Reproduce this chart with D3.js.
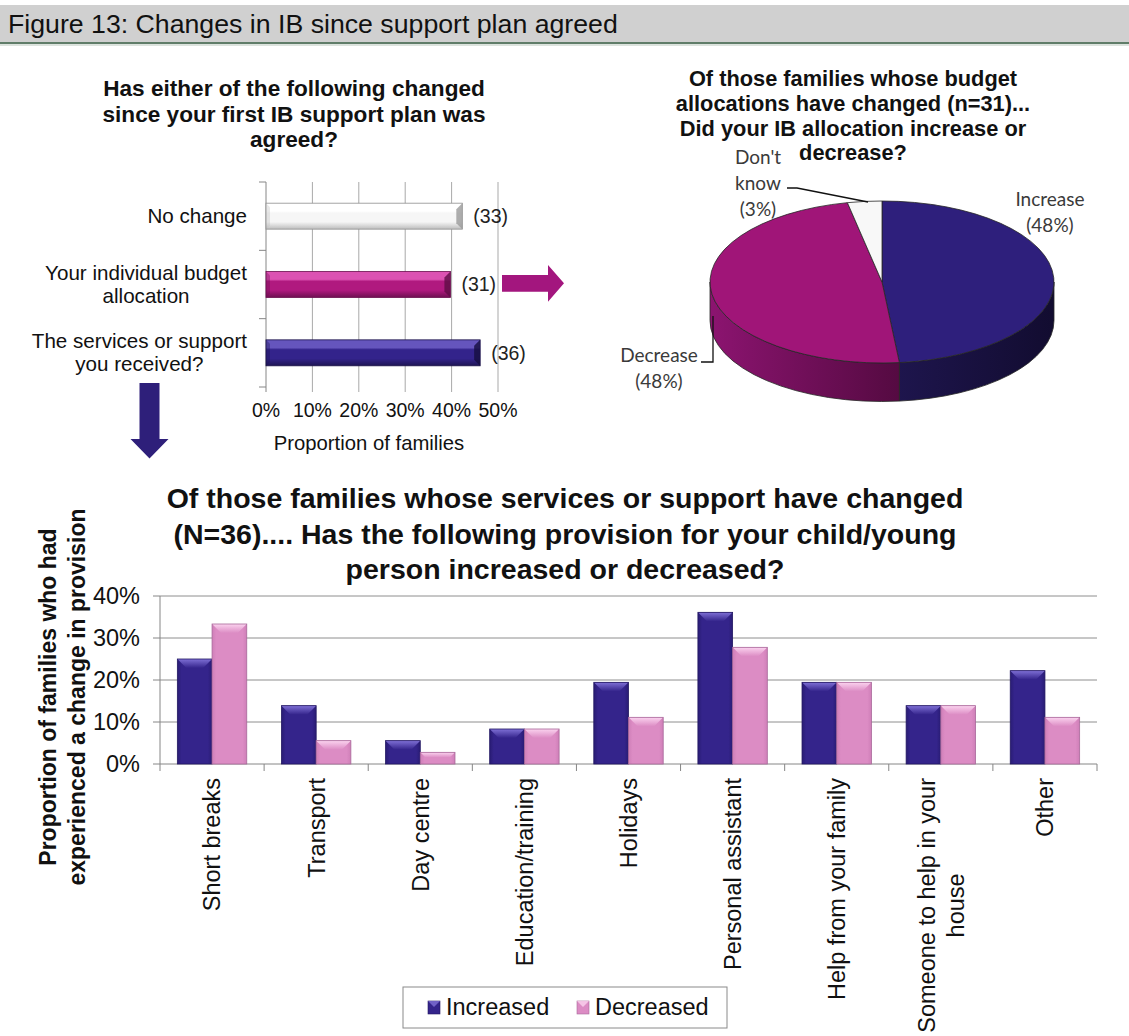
<!DOCTYPE html>
<html>
<head>
<meta charset="utf-8">
<script src="https://cdn.jsdelivr.net/npm/d3@7"></script>
<style>
  html, body { margin: 0; padding: 0; background: #ffffff; }
  svg { display: block; font-family: "Liberation Sans", Arial, sans-serif; }
</style>
</head>
<body>
<svg id="fig" width="1129" height="1036"></svg>
<script>
// ---------------- Data ----------------
// Has either of the following changed since the first IB support plan was agreed?
const changeCategories = ["No change", "Your individual budget\nallocation", "The services or support\nyou received?"];
const changeCounts = [33, 31, 36];
const changeRespondents = 78;
const changeTicks = [0, 0.1, 0.2, 0.3, 0.4, 0.5];

// Did the IB allocation increase or decrease? (n = 31)
const allocationLabels = ["Increase", "Decrease", "Don't\nknow"];
const allocationCounts = [15, 15, 1];

// Change in provision among families whose services changed (N = 36)
const provisionCategories = ["Short breaks", "Transport", "Day centre", "Education/training", "Holidays",
  "Personal assistant", "Help from your family", "Someone to help in your\nhouse", "Other"];
const provisionSeries = ["Increased", "Decreased"];
const increasedCounts = [9, 5, 2, 3, 7, 13, 7, 5, 8];
const decreasedCounts = [12, 2, 1, 3, 4, 10, 7, 5, 4];
const provisionRespondents = 36;
const provisionTicks = [0, 0.1, 0.2, 0.3, 0.4];

// ---------------- Setup ----------------
const svg = d3.select("#fig");
const defs = svg.append("defs");
let gradId = 0;
function linGrad(x1, y1, x2, y2, stops, userSpace) {
  const id = "g" + (gradId++);
  const g = defs.append("linearGradient").attr("id", id)
    .attr("x1", x1).attr("y1", y1).attr("x2", x2).attr("y2", y2);
  if (userSpace) g.attr("gradientUnits", "userSpaceOnUse");
  stops.forEach(([o, c]) => g.append("stop").attr("offset", o).attr("stop-color", c));
  return `url(#${id})`;
}
const pct = d3.format(".0%");

// ---------------- Figure header ----------------
svg.append("rect").attr("x", 0).attr("y", 5).attr("width", 1129).attr("height", 37).attr("fill", "#d0d0d0");
svg.append("line").attr("x1", 0).attr("x2", 1129).attr("y1", 43).attr("y2", 43)
  .attr("stroke", "#607d69").attr("stroke-width", 2);
svg.append("line").attr("x1", 0).attr("x2", 1129).attr("y1", 45).attr("y2", 45)
  .attr("stroke", "#b9c7bc").attr("stroke-width", 1);
svg.append("text").attr("x", 8).attr("y", 33).attr("font-size", 26.7).attr("fill", "#111")
  .text("Figure 13: Changes in IB since support plan agreed");

// ---------------- Top-left: horizontal bars ----------------
const topTitle = ["Has either of the following changed", "since your first IB support plan was", "agreed?"];
const tt = svg.append("text").attr("text-anchor", "middle").attr("font-size", 22.6).attr("font-weight", "bold").attr("fill", "#111");
topTitle.forEach((t, i) => tt.append("tspan").attr("x", 294).attr("y", 96 + i * 25.5).text(t));

const hx = d3.scaleLinear().domain([0, 0.5]).range([266, 498]);
const hy = d3.scaleBand().domain(changeCategories).range([182, 387]).paddingInner(0.62).paddingOuter(0.31);

// gridlines (extend below the plot as tick marks)
svg.append("g").selectAll("line").data(changeTicks.slice(1)).join("line")
  .attr("x1", d => hx(d)).attr("x2", d => hx(d)).attr("y1", 182).attr("y2", 392)
  .attr("stroke", "#a9a9a9").attr("stroke-width", 1);
// value axis line and category tick marks
svg.append("line").attr("x1", hx(0)).attr("x2", hx(0)).attr("y1", 182).attr("y2", 392).attr("stroke", "#868686");
svg.append("g").selectAll("line").data(d3.range(changeCategories.length + 1)).join("line")
  .attr("x1", hx(0) - 7).attr("x2", hx(0))
  .attr("y1", i => hy.range()[0] + i * hy.step()).attr("y2", i => hy.range()[0] + i * hy.step())
  .attr("stroke", "#868686");

svg.append("g").selectAll("text").data(changeTicks).join("text")
  .attr("x", d => hx(d)).attr("y", 417).attr("text-anchor", "middle").attr("font-size", 19.5).attr("fill", "#111")
  .text(d => pct(d));
svg.append("text").attr("x", 369).attr("y", 450).attr("text-anchor", "middle").attr("font-size", 20.3).attr("fill", "#111")
  .text("Proportion of families");

const hStyles = [
  { main: "#f6f6f6", light: "#ffffff", dark: "#bdbdbd", end: "#9a9a9a", edge: "#8f8f8f" },
  { main: "#b0197f", light: "#dc52b2", dark: "#6e0f51", end: "#5e0c45", edge: "#6a0e4e" },
  { main: "#33238b", light: "#6555bd", dark: "#1d1453", end: "#150e3e", edge: "#1a1248" }
];
changeCategories.forEach((cat, i) => {
  const s = hStyles[i];
  const x0 = hx(0), x1 = hx(changeCounts[i] / changeRespondents);
  const y0 = hy(cat), h = hy.bandwidth(), y1 = y0 + h;
  const g = svg.append("g");
  g.append("rect").attr("x", x0).attr("y", y0).attr("width", x1 - x0).attr("height", h)
    .attr("fill", linGrad(0, 0, 0, 1, [[0, s.light], [0.3, s.light], [0.38, s.main], [0.72, s.main], [1, s.dark]]));
  const b = 6;
  g.append("polygon").attr("points", [[x1 - b, y0 + b], [x1, y0], [x1, y1], [x1 - b, y1 - b]].join(" "))
    .attr("fill", s.end).attr("opacity", 0.8);
  g.append("polygon").attr("points", [[x0, y0], [x0 + 4, y0 + 4], [x0 + 4, y1 - 4], [x0, y1]].join(" "))
    .attr("fill", s.dark).attr("opacity", 0.35);
  g.append("rect").attr("x", x0).attr("y", y0).attr("width", x1 - x0).attr("height", h)
    .attr("fill", "none").attr("stroke", s.edge).attr("stroke-width", 0.8);
  svg.append("text").attr("x", x1 + 11).attr("y", y0 + h / 2 + 6.7).attr("font-size", 19.5).attr("fill", "#222")
    .text(`(${changeCounts[i]})`);

  // category label: lines centred on each other, block right-aligned
  const parts = cat.split("\n");
  const lab = svg.append("text").attr("text-anchor", "middle").attr("font-size", 20.6).attr("fill", "#111");
  const cyMid = y0 + h / 2 + 6.7;
  const spans = parts.map((t, k) => lab.append("tspan").attr("y", cyMid + (k - (parts.length - 1) / 2) * 23.3).text(t));
  const maxLen = d3.max(spans, sp => sp.node().getComputedTextLength());
  spans.forEach(sp => sp.attr("x", 247 - maxLen / 2));
});

// arrows linking the panels
svg.append("polygon").attr("fill", "#a3167e")
  .attr("points", [[502, 275], [548, 275], [548, 265], [564, 283.3], [548, 301.7], [548, 291.7], [502, 291.7]].join(" "));
svg.append("polygon").attr("fill", "#2e1f7a")
  .attr("points", [[139.5, 383], [159.5, 383], [159.5, 439], [168.5, 439], [149.5, 458.5], [130.5, 439], [139.5, 439]].join(" "));

// ---------------- Top-right: 3-D pie ----------------
const pieTitle = ["Of those families whose budget", "allocations have changed (n=31)...", "Did your IB allocation increase or", "decrease?"];
const pt = svg.append("text").attr("text-anchor", "middle").attr("font-size", 21.8).attr("font-weight", "bold").attr("fill", "#111");
pieTitle.forEach((t, i) => pt.append("tspan").attr("x", 853).attr("y", 86 + i * 24.8).text(t));

const pcx = 882, pcy = 282, prx = 172, pry = 81, pdepth = 38.5;
const arcs = d3.pie().sort(null).value(d => d)(allocationCounts);
const ep = (a, dy = 0) => [pcx + prx * Math.sin(a), pcy - pry * Math.cos(a) + dy];
const topFill = ["#2e1f7c", "#a01578", "#f8f8f8"];
const sideFill = [
  linGrad(pcx, 0, pcx + prx, 0, [[0, "#1f1650"], [1, "#120c30"]], true),
  linGrad(pcx - prx, 0, pcx + 20, 0, [[0, "#8c1470"], [1, "#540a41"]], true),
  "#cccccc"
];
const totalAlloc = d3.sum(allocationCounts);

// visible (front) side walls
arcs.forEach((a, i) => {
  const s = Math.max(a.startAngle, Math.PI / 2), e = Math.min(a.endAngle, 3 * Math.PI / 2);
  if (e <= s) return;
  const p0 = ep(s), p1 = ep(e), q1 = ep(e, pdepth), q0 = ep(s, pdepth);
  svg.append("path")
    .attr("d", `M${p0}A${prx},${pry} 0 0 1 ${p1}L${q1}A${prx},${pry} 0 0 0 ${q0}Z`)
    .attr("fill", sideFill[i]).attr("stroke", "#262626").attr("stroke-width", 0.8);
});
// top faces
arcs.forEach((a, i) => {
  const p0 = ep(a.startAngle), p1 = ep(a.endAngle);
  const large = a.endAngle - a.startAngle > Math.PI ? 1 : 0;
  svg.append("path")
    .attr("d", `M${pcx},${pcy}L${p0}A${prx},${pry} 0 ${large} 1 ${p1}Z`)
    .attr("fill", topFill[i]).attr("stroke", "#262626").attr("stroke-width", 0.8);
});

const pieLab = (lines, x, y0) => {
  const t = svg.append("text").attr("text-anchor", "middle").attr("font-family", "Lato, 'Open Sans', sans-serif")
    .attr("font-size", 19).attr("fill", "#3a3a3a");
  lines.forEach((l, k) => t.append("tspan").attr("x", x).attr("y", y0 + k * 26).text(l));
};
const share = i => `(${Math.round(allocationCounts[i] / totalAlloc * 100)}%)`;
pieLab([...allocationLabels[0].split("\n"), share(0)], 1050, 206);
pieLab([...allocationLabels[1].split("\n"), share(1)], 659, 362);
pieLab([...allocationLabels[2].split("\n"), share(2)], 758, 164);
// leader lines
svg.append("polyline").attr("points", [[701, 362], [713, 362], [713, 316]].join(" "))
  .attr("fill", "none").attr("stroke", "#111").attr("stroke-width", 1.3);
svg.append("polyline").attr("points", [[787, 188], [797, 188], [868, 202]].join(" "))
  .attr("fill", "none").attr("stroke", "#111").attr("stroke-width", 1.3);

// ---------------- Bottom: clustered columns ----------------
const botTitle = ["Of those families whose services or support have changed",
  "(N=36).... Has the following provision for your child/young", "person increased or decreased?"];
const bt = svg.append("text").attr("text-anchor", "middle").attr("font-size", 28.5).attr("font-weight", "bold").attr("fill", "#111");
botTitle.forEach((t, i) => bt.append("tspan").attr("x", 565).attr("y", 508 + i * 35.5).text(t));

const bx0 = d3.scaleBand().domain(provisionCategories).range([160, 1097]);
const bx1 = d3.scaleBand().domain(provisionSeries).range([0, bx0.bandwidth()]).paddingOuter(0.5);
const by = d3.scaleLinear().domain([0, 0.4]).range([764, 596]);

svg.append("g").selectAll("line").data(provisionTicks.slice(1)).join("line")
  .attr("x1", 160).attr("x2", 1097).attr("y1", d => by(d)).attr("y2", d => by(d))
  .attr("stroke", "#8e8e8e").attr("stroke-width", 1);
svg.append("line").attr("x1", 160).attr("x2", 160).attr("y1", by(0.4)).attr("y2", by(0)).attr("stroke", "#868686");
svg.append("line").attr("x1", 160).attr("x2", 1097).attr("y1", by(0)).attr("y2", by(0)).attr("stroke", "#868686");
svg.append("g").selectAll("line").data(provisionTicks).join("line")
  .attr("x1", 153).attr("x2", 160).attr("y1", d => by(d)).attr("y2", d => by(d)).attr("stroke", "#868686");
svg.append("g").selectAll("line").data(d3.range(provisionCategories.length + 1)).join("line")
  .attr("x1", i => 160 + i * bx0.step()).attr("x2", i => 160 + i * bx0.step())
  .attr("y1", by(0)).attr("y2", by(0) + 7).attr("stroke", "#868686");
svg.append("g").selectAll("text").data(provisionTicks).join("text")
  .attr("x", 140).attr("y", d => by(d) + 8.4).attr("text-anchor", "end").attr("font-size", 23.5).attr("fill", "#111")
  .text(d => pct(d));

const vStyles = {
  Increased: { main: "#34248b", light: "#7f70d6", edge: "#221762", shade: "#291c74" },
  Decreased: { main: "#dc8cc4", light: "#fbd3ef", edge: "#a8689a", shade: "#cf7fb8" }
};
const seriesValues = { Increased: increasedCounts, Decreased: decreasedCounts };
const colGrad = {};
provisionSeries.forEach(s => {
  const st = vStyles[s];
  colGrad[s] = linGrad(0, 0, 1, 0, [[0, st.shade], [0.12, st.main], [0.88, st.main], [1, st.shade]]);
  colGrad[s + "top"] = linGrad(0, 0, 0, 1, [[0, st.light], [1, st.main]]);
});

provisionCategories.forEach((cat, ci) => {
  provisionSeries.forEach(s => {
    const st = vStyles[s];
    const v = seriesValues[s][ci] / provisionRespondents;
    const x0 = bx0(cat) + bx1(s), w = bx1.bandwidth(), x1 = x0 + w;
    const y0 = by(v), y1 = by(0), h = y1 - y0;
    const g = svg.append("g");
    g.append("rect").attr("x", x0).attr("y", y0).attr("width", w).attr("height", h).attr("fill", colGrad[s]);
    const b = Math.min(9, h * 0.45);
    g.append("polygon").attr("points", [[x0, y0], [x1, y0], [x1 - b, y0 + b], [x0 + b, y0 + b]].join(" "))
      .attr("fill", colGrad[s + "top"]);
    g.append("rect").attr("x", x0).attr("y", y0).attr("width", w).attr("height", h)
      .attr("fill", "none").attr("stroke", st.edge).attr("stroke-width", 0.8);
  });

  // rotated category label; multi-line labels are centred on their longest line
  const parts = cat.split("\n");
  const g = svg.append("g").attr("transform", `translate(${bx0(cat) + bx0.bandwidth() / 2},778) rotate(-90)`);
  const t = g.append("text").attr("text-anchor", "middle").attr("font-size", 23.5).attr("fill", "#111");
  const spans = parts.map((p, k) => t.append("tspan").attr("y", (k - (parts.length - 1) / 2) * 29 + 8.4).text(p));
  const maxLen = d3.max(spans, sp => sp.node().getComputedTextLength());
  spans.forEach(sp => sp.attr("x", -maxLen / 2));
});

// value axis title
const yt = svg.append("g").attr("transform", "translate(62,697) rotate(-90)")
  .append("text").attr("text-anchor", "middle").attr("font-size", 23).attr("font-weight", "bold").attr("fill", "#111");
["Proportion of families who had", "experienced a change in provision"].forEach((l, k) =>
  yt.append("tspan").attr("x", 0).attr("y", -6 + k * 29).text(l));

// legend
svg.append("rect").attr("x", 403).attr("y", 987).attr("width", 324).attr("height", 41)
  .attr("fill", "#fff").attr("stroke", "#8a8a8a").attr("stroke-width", 1);
const legX = { Increased: 428, Decreased: 577 };
provisionSeries.forEach(s => {
  const st = vStyles[s];
  svg.append("rect").attr("x", legX[s]).attr("y", 1001).attr("width", 12).attr("height", 13)
    .attr("fill", st.main).attr("stroke", st.edge).attr("stroke-width", 0.6);
  svg.append("polygon").attr("points", [[legX[s], 1001], [legX[s] + 12, 1001], [legX[s] + 6, 1007]].join(" "))
    .attr("fill", st.light).attr("opacity", 0.8);
  svg.append("text").attr("x", legX[s] + 18).attr("y", 1015).attr("font-size", 23.5).attr("fill", "#111").text(s);
});
</script>
</body>
</html>
